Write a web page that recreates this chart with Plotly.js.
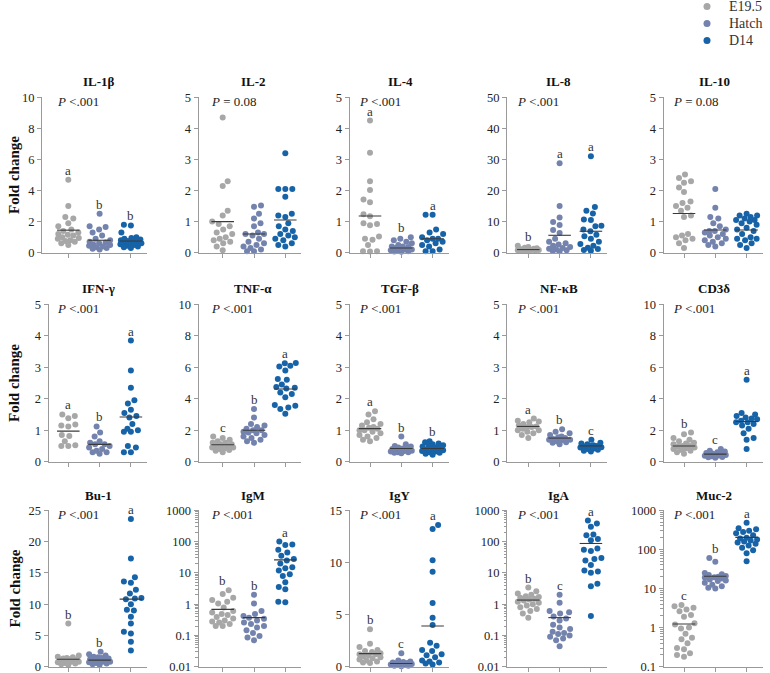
<!DOCTYPE html>
<html><head><meta charset="utf-8">
<script src="https://cdn.plot.ly/plotly-3.0.1.min.js"></script>
<style>html,body{margin:0;padding:0;background:#fff}#chart{width:770px;height:673px}</style>
</head><body><div id="chart"></div>
<script>
// ---------------- data ----------------
const groups = ['E19.5', 'Hatch', 'D14'];
const genes = ['IL-1β','IL-2','IL-4','IL-8','IL-10','IFN-γ','TNF-α','TGF-β','NF-κB','CD3δ','Bu-1','IgM','IgY','IgA','Muc-2'];
const pTexts = ['&lt;.001','= 0.08','&lt;.001','&lt;.001','= 0.08','&lt;.001','&lt;.001','&lt;.001','&lt;.001','&lt;.001','&lt;.001','&lt;.001','&lt;.001','&lt;.001','&lt;.001'];
const letters = ['abb','','aba','baa','','aba','cba','abb','abc','bca','bba','bba','bca','bca','cba'];
const yMins = [0,0,0,0,0,0,0,0,0,0,0,0.01,0,0.01,0.1];
const yMaxs = [10,5,5,50,5,5,10,5,5,10,25,1000,15,1000,1000];
const yTickSteps = [2,1,1,10,1,1,2,1,1,2,5,0,5,0,0];
const logScale = [false,false,false,false,false,false,false,false,false,false,false,true,false,true,true];

const IL1B = [[4.7,3.0,2.3,2.2,1.9,1.7,1.5,1.4,1.3,1.2,1.15,1.1,1.0,0.95,0.9,0.8,0.75,0.7,0.6,0.5],
              [2.5,1.7,1.65,1.5,1.3,1.1,0.9,0.8,0.7,0.65,0.6,0.55,0.5,0.45,0.4,0.35,0.3,0.25,0.2],
              [1.8,1.75,1.3,1.0,0.95,0.9,0.85,0.8,0.75,0.7,0.7,0.65,0.6,0.6,0.55,0.5,0.45,0.4,0.35,0.3]];
const IL2 = [[4.35,2.3,2.15,1.35,1.2,1.0,0.92,0.85,0.75,0.65,0.6,0.5,0.45,0.4,0.35,0.3,0.2,0.08],
             [1.52,1.48,1.25,1.1,0.95,0.85,0.65,0.6,0.6,0.55,0.45,0.35,0.3,0.25,0.2,0.15,0.1,0.05,0.05],
             [3.2,2.05,2.05,2.05,1.8,1.25,1.2,1.15,0.95,0.85,0.75,0.7,0.6,0.55,0.5,0.45,0.4,0.3,0.25,0.2]];
const IL4 = [[4.25,3.22,2.3,2.02,1.71,1.62,1.24,1.17,0.95,0.92,0.88,0.52,0.45,0.42,0.25,0.05,0.05,0.04],
             [0.5,0.45,0.4,0.35,0.3,0.25,0.2,0.2,0.18,0.15,0.12,0.1,0.1,0.08,0.06,0.05,0.04,0.03],
             [1.22,1.22,0.75,0.65,0.6,0.5,0.45,0.45,0.4,0.35,0.3,0.25,0.2,0.1,0.05,0.05]];
const IL8 = [[2.2,1.8,1.6,1.4,1.3,1.2,1.1,1.0,1.0,0.9,0.9,0.8,0.8,0.7,0.6,0.5],
             [28.8,15.0,11.3,9.9,8.9,7.3,6.3,4.5,3.5,3.0,2.6,2.2,1.8,1.5,1.3,1.0,0.8,0.6,0.5],
             [31.0,14.7,13.5,12.6,10.7,10.5,8.7,8.5,7.5,6.9,5.8,5.3,4.5,3.5,2.8,2.2,1.6,1.2,0.9,0.6]];
const IL10 = [[2.52,2.4,2.3,2.25,2.1,1.95,1.65,1.6,1.5,1.45,1.35,1.2,1.15,0.6,0.55,0.5,0.45,0.4,0.3,0.15],
              [2.05,1.45,1.15,1.1,0.95,0.85,0.75,0.7,0.7,0.65,0.6,0.55,0.5,0.45,0.4,0.35,0.3,0.25,0.2],
              [1.25,1.2,1.2,1.15,1.1,1.05,1.05,1.0,0.95,0.9,0.8,0.75,0.7,0.6,0.5,0.45,0.45,0.4,0.3,0.25,0.15]];
const IFNG = [[1.5,1.45,1.38,1.18,1.15,1.12,0.85,0.82,0.65,0.52,0.5,0.5],
              [1.12,0.93,0.8,0.65,0.6,0.55,0.55,0.5,0.45,0.4,0.35,0.3,0.3,0.25],
              [3.85,2.9,2.35,1.95,1.85,1.65,1.55,1.45,1.4,1.2,1.05,1.0,0.95,0.95,0.5,0.45,0.3,0.3]];
const TNFA = [[1.6,1.5,1.4,1.3,1.2,1.2,1.1,1.1,1.0,1.0,0.9,0.9,0.85,0.8,0.75,0.7,0.6],
              [3.35,2.8,2.4,2.3,2.2,2.1,2.0,2.0,1.9,1.85,1.8,1.7,1.6,1.5,1.4,1.3,1.2],
              [6.27,6.25,6.1,6.05,5.8,5.25,5.2,4.9,4.75,4.7,4.65,4.4,4.3,4.1,3.6,3.55,3.45,3.35,3.05]];
const TGFB = [[1.6,1.5,1.35,1.25,1.2,1.15,1.1,1.08,1.05,1.0,1.0,0.95,0.9,0.85,0.8,0.75,0.7,0.65],
              [0.8,0.55,0.5,0.48,0.45,0.42,0.4,0.4,0.38,0.36,0.35,0.34,0.32,0.3,0.3,0.28,0.27],
              [0.65,0.62,0.58,0.55,0.52,0.5,0.48,0.45,0.42,0.4,0.38,0.36,0.34,0.32,0.3,0.28,0.25,0.22]];
const NFKB = [[1.37,1.3,1.28,1.25,1.2,1.15,1.12,1.1,1.1,1.05,1.0,1.0,0.95,0.9,0.85,0.75],
              [1.03,0.95,0.9,0.85,0.8,0.78,0.75,0.72,0.7,0.7,0.68,0.65,0.62,0.6,0.55],
              [0.7,0.6,0.58,0.55,0.52,0.5,0.5,0.48,0.46,0.45,0.42,0.4,0.38,0.35,0.32]];
const CD3D = [[1.85,1.75,1.5,1.4,1.3,1.2,1.15,1.1,1.0,1.0,0.95,0.9,0.85,0.8,0.75,0.7,0.6,0.5],
              [0.8,0.7,0.65,0.6,0.55,0.52,0.5,0.48,0.45,0.42,0.4,0.38,0.35,0.3,0.28,0.25],
              [5.2,3.1,3.0,2.9,2.8,2.75,2.7,2.6,2.5,2.5,2.4,2.3,2.1,1.8,1.5,1.4,0.8]];
const BU1 = [[6.9,1.8,1.6,1.5,1.4,1.3,1.2,1.2,1.1,1.0,1.0,0.9,0.9,0.8,0.8,0.7,0.6,0.5,0.4,0.3],
             [2.4,2.0,1.8,1.6,1.5,1.4,1.3,1.2,1.1,1.0,1.0,0.9,0.8,0.8,0.7,0.6,0.5,0.4,0.3],
             [23.6,17.3,14.3,13.6,13.4,12.3,11.7,11.0,10.9,10.8,10.0,9.1,9.0,8.0,6.9,5.6,5.3,4.0,2.6]];
const IGM = [[2.8,2.1,1.6,1.35,1.2,1.05,0.78,0.6,0.54,0.48,0.45,0.39,0.35,0.3,0.28,0.26,0.23,0.2,0.2],
             [2.0,1.05,0.6,0.48,0.42,0.37,0.34,0.3,0.26,0.23,0.2,0.18,0.145,0.12,0.095,0.085,0.07],
             [100,80,78,55,45,35,28,25,20,15,14,12,9,8,5,3.5,3.0,1.2,1.15]];
const IGY = [[3.6,2.2,1.9,1.6,1.5,1.4,1.3,1.2,1.2,1.1,1.0,0.9,0.8,0.7,0.6,0.5,0.4,0.35],
             [1.3,0.6,0.5,0.45,0.4,0.35,0.3,0.3,0.25,0.2,0.2,0.15,0.1,0.1,0.05],
             [13.6,13.2,10.2,9.1,6.1,4.7,4.0,2.3,2.0,1.6,1.5,1.2,1.1,0.9,0.6,0.5,0.4,0.3,0.2]];
const IGA = [[3.4,2.6,2.2,2.0,1.8,1.7,1.6,1.5,1.4,1.3,1.2,1.1,1.0,0.9,0.8,0.7,0.6,0.5,0.37],
             [2.0,1.1,0.6,0.55,0.5,0.4,0.35,0.3,0.22,0.18,0.16,0.13,0.12,0.11,0.1,0.09,0.08,0.07,0.045],
             [470,380,300,170,160,120,110,60,55,50,30,28,25,18,12,11,10,4.5,3.7,0.42]];
const MUC2 = [[3.8,3.5,3.2,2.9,2.6,2.1,1.9,1.3,1.2,1.0,0.95,0.7,0.55,0.5,0.4,0.3,0.28,0.22,0.2,0.18],
              [60,48,25,23,22,21,20,19.5,19,18,17,16,15.5,14,12.5,11.5,10.5,10],
              [480,350,330,300,280,260,230,200,190,180,170,160,150,140,125,110,95,80,50]];
const panelData = [IL1B, IL2, IL4, IL8, IL10, IFNG, TNFA, TGFB, NFKB, CD3D, BU1, IGM, IGY, IGA, MUC2];
const centreLines = [[1.45,0.8,0.75],[1.0,0.6,1.05],[1.18,0.15,0.45],[1.0,5.6,6.9],[1.26,0.73,0.73],
                     [0.97,0.55,1.42],[1.08,2.0,4.62],[1.05,0.42,0.42],[1.12,0.75,0.5],[1.0,0.48,2.55],
                     [1.2,1.05,10.8],[0.68,0.37,26],[1.25,0.3,3.9],[1.35,0.37,87],[1.24,20.5,203]];

// ---------------- layout helpers ----------------
const W = 770, H = 673;
const colors = ['#a7a7a7', '#7383ad', '#1763a8'];
const FONT = 'Liberation Serif, Times New Roman, serif';
const rowsPx = [[97,253],[304,462],[510,667]];
const colLeft = [42,198.5,349.5,507,663.5];
const colTick0 = [68.3,222.7,370,528.3,684];
const STEP = 31.3;
const DOT = 6, MIND = 6.8, HALFW = 10.5;

function swarm(py) {
  const n = py.length;
  const order = [...Array(n).keys()].sort((a,b) => py[a]-py[b]);
  const placed = [];
  const xs = new Array(n).fill(0);
  const cands = [0];
  for (let k = 1; k * 0.5 <= HALFW; k++) { cands.push(k*0.5); cands.push(-k*0.5); }
  order.forEach((idx, j) => {
    const y = py[idx];
    let chosen = null, bestScore = -1, bestX = 0;
    for (const c0 of cands) {
      const cx = (j % 2 === 0) ? c0 : -c0;
      let minD = Infinity;
      for (const p of placed) {
        const d = Math.hypot(p.x - cx, p.y - y);
        if (d < minD) minD = d;
      }
      if (minD >= MIND) { chosen = cx; break; }
      if (minD > bestScore) { bestScore = minD; bestX = cx; }
    }
    if (chosen === null) chosen = bestX;
    placed.push({x: chosen, y});
    xs[idx] = chosen;
  });
  return xs;
}

const traces = [], layout = {
  width: W, height: H, margin: {l:0, r:0, t:0, b:0, autoexpand: false},
  paper_bgcolor: '#fff', plot_bgcolor: '#fff',
  font: {family: FONT, color: '#222', size: 12},
  showlegend: false,
  annotations: []
};

genes.forEach((gene, k) => {
  const r = Math.floor(k/5), c = k % 5;
  const ax = k === 0 ? '' : String(k+1);
  const left = (c === 0 && r > 0) ? 48.5 : colLeft[c];
  const right = colTick0[c] + 2*STEP + 16;
  const xr = [-(colTick0[c]-left)/STEP, (right - colTick0[c])/STEP];
  const hpx = rowsPx[r][1] - rowsPx[r][0];
  const isLog = logScale[k];
  const toPx = v => isLog
    ? (Math.log10(v) - Math.log10(yMins[k])) / (Math.log10(yMaxs[k]) - Math.log10(yMins[k])) * hpx
    : (v - yMins[k]) / (yMaxs[k] - yMins[k]) * hpx;

  layout['xaxis'+ax] = {
    domain: [left/W, right/W], range: xr, anchor: 'y'+ax,
    tickvals: [0,1,2], ticktext: ['','',''], ticks: 'outside', ticklen: 4, tickwidth: 1,
    tickcolor: '#9a9a9a', showline: true, linecolor: '#9a9a9a', linewidth: 1,
    showgrid: false, zeroline: false, fixedrange: true
  };
  let tv, tt;
  if (isLog) {
    tv = []; tt = [];
    for (let e = Math.round(Math.log10(yMins[k])); e <= 3; e++) {
      tv.push(Math.pow(10, e)); tt.push(e < 0 ? (e === -1 ? '0.1' : '0.01') : String(Math.pow(10, e)));
    }
  } else {
    tv = []; for (let v = 0; v <= yMaxs[k] + 1e-9; v += yTickSteps[k]) tv.push(v);
    tt = tv.map(String);
  }
  const lo = isLog ? Math.log10(yMins[k]) : yMins[k];
  const hi = isLog ? Math.log10(yMaxs[k]) : yMaxs[k];
  const pad = (hi - lo) * 0.002;
  layout['yaxis'+ax] = {
    domain: [1 - rowsPx[r][1]/H, 1 - rowsPx[r][0]/H], anchor: 'x'+ax,
    type: isLog ? 'log' : 'linear',
    range: [lo - pad, hi + pad],
    tickvals: tv, ticktext: tt, ticks: 'outside', ticklen: 4, tickwidth: 1,
    tickcolor: '#9a9a9a', showline: true, linecolor: '#9a9a9a', linewidth: 1,
    showgrid: false, zeroline: false, fixedrange: true, ticklabeloverflow: 'allow',
    tickfont: {family: FONT, size: 12.5, color: '#222'}
  };
  if (isLog) {
    layout['yaxis'+ax].minor = {ticks: 'outside', ticklen: 2.5, tickcolor: '#9a9a9a', tickwidth: 1,
                                dtick: 'D1', showgrid: false};
  }

  const data = panelData[k];
  data.forEach((vals, g) => {
    const offs = swarm(vals.map(toPx));
    traces.push({
      type: 'scatter', mode: 'markers', xaxis: 'x'+ax, yaxis: 'y'+ax,
      x: vals.map((v, i) => g + offs[i]/STEP), y: vals,
      name: groups[g], cliponaxis: false, hoverinfo: 'skip',
      marker: {color: colors[g], size: DOT, line: {width: 0}}
    });
  });
  data.forEach((vals, g) => {
    const m = centreLines[k][g];
    traces.push({
      type: 'scatter', mode: 'lines', xaxis: 'x'+ax, yaxis: 'y'+ax,
      x: [g - 0.36, g + 0.36], y: [m, m], hoverinfo: 'skip',
      line: {color: '#3a3a3a', width: 1.1}
    });
  });

  layout.annotations.push({
    text: '<b>' + gene + '</b>', xref: 'x'+ax, yref: 'y'+ax+' domain', x: 1, y: 1,
    xshift: -1, yshift: 15, yanchor: 'middle', xanchor: 'center', showarrow: false,
    font: {family: FONT, size: 13, color: '#111'}
  });
  layout.annotations.push({
    text: '<i>P</i> ' + pTexts[k], xref: 'x'+ax, yref: 'y'+ax+' domain', x: -0.43, y: 1,
    yshift: -4.5, xanchor: 'left', yanchor: 'middle', showarrow: false,
    font: {family: FONT, size: 13, color: '#222'}
  });
  if (letters[k]) {
    data.forEach((vals, g) => {
      const mx = Math.max(...vals);
      layout.annotations.push({
        text: letters[k][g], xref: 'x'+ax, yref: 'y'+ax, x: g,
        y: isLog ? Math.log10(mx) : mx, yshift: 9.5, yanchor: 'middle', showarrow: false,
        font: {family: FONT, size: 13, color: '#333'}
      });
    });
  }
});

// legend: a small categorical panel (markers + group names as tick labels)
const LG = String(genes.length + 1);
const lgTop = 0, lgBot = 50, lgFirst = 6.5, lgGap = 17;
layout['xaxis'+LG] = {domain: [700/W, 728/W], range: [-1, 3], visible: false, fixedrange: true, anchor: 'y'+LG};
layout['yaxis'+LG] = {
  domain: [1 - lgBot/H, 1 - lgTop/H], anchor: 'x'+LG, type: 'category', categoryarray: groups,
  tickmode: 'array', tickvals: groups, ticktext: groups,
  range: [(lgBot - lgFirst)/lgGap, (lgTop - lgFirst)/lgGap], side: 'right',
  showline: false, ticks: '', showgrid: false, zeroline: false, fixedrange: true,
  ticklabeloverflow: 'allow',
  tickfont: {family: FONT, size: 14, color: '#333'}
};
traces.push({
  type: 'scatter', mode: 'markers', xaxis: 'x'+LG, yaxis: 'y'+LG,
  x: groups.map(() => 0), y: groups, hoverinfo: 'skip', cliponaxis: false,
  marker: {color: colors, size: 7, line: {width: 0}}
});

rowsPx.forEach(rp => {
  layout.annotations.push({
    text: '<b>Fold change</b>', xref: 'paper', yref: 'paper', x: 14/W,
    y: 1 - (rp[0]+rp[1])/2/H, textangle: -90, showarrow: false,
    xanchor: 'center', yanchor: 'middle', font: {family: FONT, size: 15, color: '#111'}
  });
});

Plotly.newPlot('chart', traces, layout, {staticPlot: true});
</script></body></html>
